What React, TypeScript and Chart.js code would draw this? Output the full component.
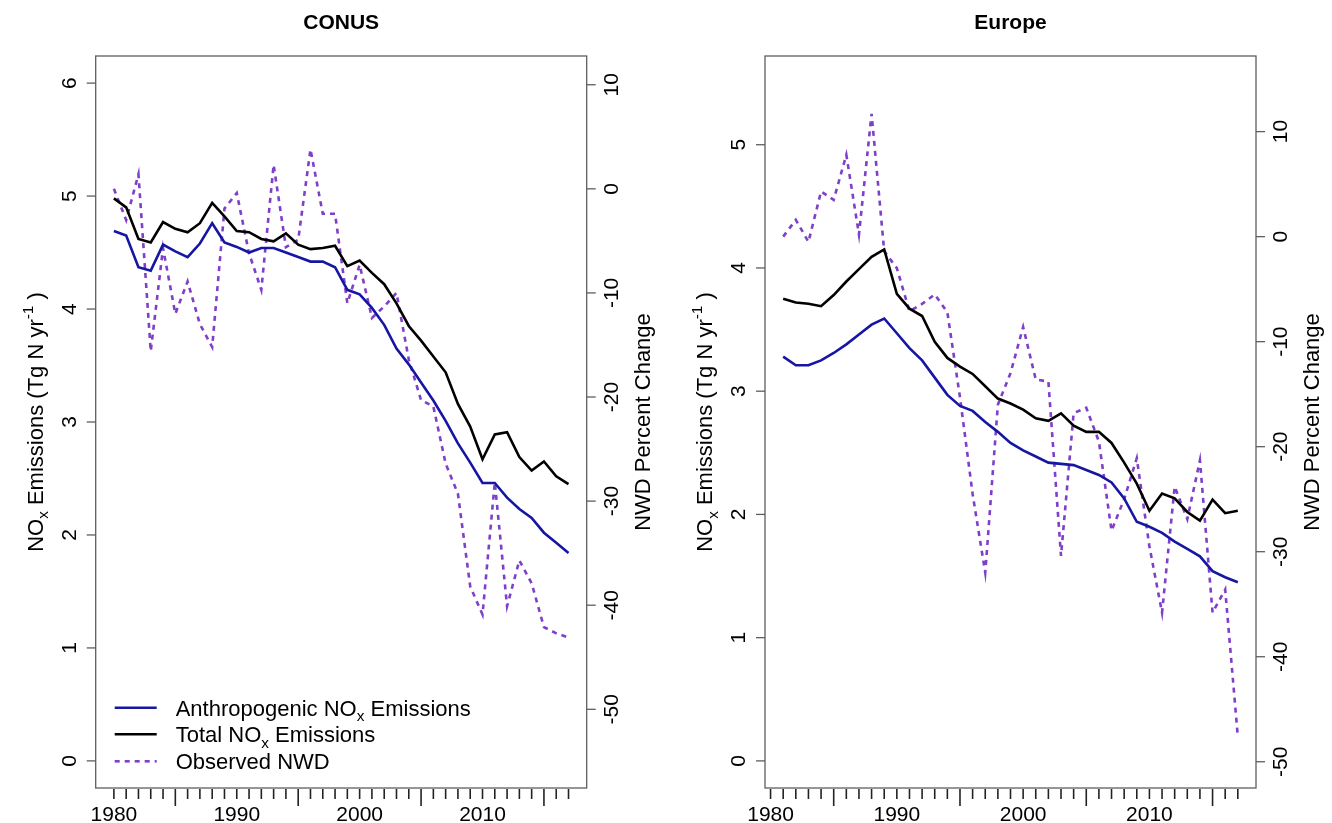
import React, { useEffect, useRef } from "react";
import { Chart, registerables } from "chart.js";

Chart.register(...registerables);

// ---------------- DATA ----------------
const conusYears = [
  1980, 1981, 1982, 1983, 1984, 1985, 1986, 1987, 1988, 1989,
  1990, 1991, 1992, 1993, 1994, 1995, 1996, 1997, 1998, 1999,
  2000, 2001, 2002, 2003, 2004, 2005, 2006, 2007, 2008, 2009,
  2010, 2011, 2012, 2013, 2014, 2015, 2016, 2017,
];
const conusAnthro = [
  4.69, 4.65, 4.37, 4.34, 4.57, 4.51, 4.46, 4.58, 4.76, 4.59,
  4.55, 4.5, 4.54, 4.54, 4.5, 4.46, 4.42, 4.42, 4.37, 4.17,
  4.13, 4.01, 3.86, 3.65, 3.51, 3.35, 3.19, 3.01, 2.81, 2.64,
  2.46, 2.46, 2.33, 2.23, 2.15, 2.02, 1.93, 1.84,
];
const conusTotal = [
  4.98, 4.9, 4.62, 4.59, 4.77, 4.71, 4.68, 4.76, 4.94, 4.82,
  4.69, 4.68, 4.62, 4.6, 4.67, 4.57, 4.53, 4.54, 4.56, 4.38,
  4.43, 4.32, 4.22, 4.05, 3.85, 3.72, 3.58, 3.44, 3.16, 2.96,
  2.67, 2.89, 2.91, 2.69, 2.57, 2.65, 2.52, 2.45,
];
const conusNWD = [
  0, -3.0, 1.4, -15.6, -5.7, -12.0, -8.9, -13.0, -15.2, -1.9,
  -0.4, -6.2, -9.7, 2.3, -5.6, -4.9, 3.8, -2.4, -2.4, -11.0,
  -7.3, -12.4, -11.3, -10.0, -16.4, -20.3, -20.9, -26.4, -29.3, -38.2,
  -40.9, -28.2, -40.1, -35.7, -37.9, -42.1, -42.7, -43.1,
];

const euroYears = [
  1981, 1982, 1983, 1984, 1985, 1986, 1987, 1988, 1989,
  1990, 1991, 1992, 1993, 1994, 1995, 1996, 1997, 1998, 1999,
  2000, 2001, 2002, 2003, 2004, 2005, 2006, 2007, 2008, 2009,
  2010, 2011, 2012, 2013, 2014, 2015, 2016, 2017,
];
const euroAnthro = [
  3.28, 3.21, 3.21, 3.25, 3.31, 3.38, 3.46, 3.54, 3.59,
  3.47, 3.35, 3.25, 3.11, 2.97, 2.88, 2.84, 2.75, 2.67, 2.58,
  2.52, 2.47, 2.42, 2.41, 2.4, 2.36, 2.32, 2.26, 2.13, 1.94,
  1.9, 1.85, 1.78, 1.72, 1.66, 1.54, 1.49, 1.45,
];
const euroTotal = [
  3.75, 3.72, 3.71, 3.69, 3.78, 3.89, 3.99, 4.09, 4.15,
  3.79, 3.67, 3.61, 3.4, 3.27, 3.2, 3.14, 3.04, 2.94, 2.9,
  2.85, 2.78, 2.76, 2.82, 2.72, 2.67, 2.67, 2.58, 2.42, 2.25,
  2.03, 2.17, 2.13, 2.02, 1.95, 2.12, 2.01, 2.03,
];
const euroNWD = [
  0, 1.6, -0.5, 4.3, 3.5, 7.8, 0.2, 11.7, -1.4,
  -3.0, -7.1, -6.4, -5.5, -7.2, -15.3, -24.5, -32.0, -16.0, -13.0,
  -8.6, -13.6, -13.8, -30.4, -16.8, -16.3, -19.5, -28.0, -25.0, -21.1,
  -29.5, -35.8, -23.8, -26.9, -21.3, -35.8, -33.6, -47.6,
];

const xTickYears = [
  1980, 1981, 1982, 1983, 1984, 1985, 1986, 1987, 1988, 1989,
  1990, 1991, 1992, 1993, 1994, 1995, 1996, 1997, 1998, 1999,
  2000, 2001, 2002, 2003, 2004, 2005, 2006, 2007, 2008, 2009,
  2010, 2011, 2012, 2013, 2014, 2015, 2016, 2017,
];
const xLabelYears = [1980, 1990, 2000, 2010];
const xLongTickYears = [1985, 1995, 2005, 2015];

const conusLeftTicks = [0, 1, 2, 3, 4, 5, 6];
const euroLeftTicks = [0, 1, 2, 3, 4, 5];
const nwdTicks = [-50, -40, -30, -20, -10, 0, 10];

const seriesLabels = ["Anthropogenic NOx Emissions", "Total NOx Emissions", "Observed NWD"];

// ---------------- STYLE ----------------
const FONT = "'Liberation Sans', Arial, Helvetica, sans-serif";
const BLUE = "#1616a2";
const BLACK = "#000000";
const PURPLE = "#7f3fc9";
const AXIS = "#5e5e5e";
const TICK_SIZE = 21;
const LAB_SIZE = 22;

type Seg = { t: string; k?: "sub" | "sup" };

function fontStr(size: number, bold = false) {
  return `${bold ? "bold " : ""}${size}px ${FONT}`;
}

function richWidth(ctx: CanvasRenderingContext2D, segs: Seg[], size: number) {
  let w = 0;
  for (const s of segs) {
    ctx.font = fontStr(s.k ? size * 0.7 : size);
    w += ctx.measureText(s.t).width;
  }
  return w;
}

function drawRich(
  ctx: CanvasRenderingContext2D,
  segs: Seg[],
  x: number,
  y: number,
  size: number,
  align: "left" | "center"
) {
  let cx = align === "center" ? x - richWidth(ctx, segs, size) / 2 : x;
  ctx.textAlign = "left";
  ctx.textBaseline = "alphabetic";
  for (const s of segs) {
    const sz = s.k ? size * 0.7 : size;
    ctx.font = fontStr(sz);
    const dy = s.k === "sub" ? size * 0.25 : s.k === "sup" ? -size * 0.45 : 0;
    ctx.fillText(s.t, cx, y + dy);
    cx += ctx.measureText(s.t).width;
  }
}

function rotText(ctx: CanvasRenderingContext2D, txt: string, x: number, y: number, baseline: CanvasTextBaseline) {
  ctx.save();
  ctx.translate(x, y);
  ctx.rotate(-Math.PI / 2);
  ctx.textAlign = "center";
  ctx.textBaseline = baseline;
  ctx.fillText(txt, 0, 0);
  ctx.restore();
}

const yTitleSegs: Seg[] = [
  { t: "NO" },
  { t: "x", k: "sub" },
  { t: " Emissions (Tg N yr" },
  { t: "-1", k: "sup" },
  { t: " )" },
];

function legendSegs(label: string): Seg[] {
  const idx = label.indexOf("NOx");
  if (idx < 0) return [{ t: label }];
  return [{ t: label.slice(0, idx + 2) }, { t: "x", k: "sub" }, { t: label.slice(idx + 3) }];
}

const framePlugin = {
  id: "rframe",
  afterDraw(chart: any, _args: any, o: any) {
    const { ctx, chartArea: a, scales } = chart;
    const xs = scales.x;
    const ys = scales.y;
    const y2 = scales.y2;
    ctx.save();
    // box
    ctx.strokeStyle = AXIS;
    ctx.lineWidth = 1.3;
    ctx.strokeRect(a.left, a.top, a.right - a.left, a.bottom - a.top);

    ctx.fillStyle = "#000";
    ctx.font = fontStr(TICK_SIZE);
    // left y ticks
    for (const v of o.leftTicks as number[]) {
      const py = ys.getPixelForValue(v);
      ctx.beginPath();
      ctx.moveTo(a.left - 9, py);
      ctx.lineTo(a.left, py);
      ctx.stroke();
      ctx.font = fontStr(TICK_SIZE);
      rotText(ctx, String(v), a.left - 20, py, "alphabetic");
    }
    // right y ticks
    for (const v of o.rightTicks as number[]) {
      const py = y2.getPixelForValue(v);
      ctx.beginPath();
      ctx.moveTo(a.right, py);
      ctx.lineTo(a.right + 9, py);
      ctx.stroke();
      ctx.font = fontStr(TICK_SIZE);
      rotText(ctx, String(v), a.right + 31, py, "alphabetic");
    }
    // x ticks
    for (const yr of xTickYears) {
      const px = xs.getPixelForValue(yr);
      const len = xLongTickYears.includes(yr) ? 18 : 11;
      ctx.beginPath();
      ctx.moveTo(px, a.bottom + 1);
      ctx.lineTo(px, a.bottom + len);
      ctx.strokeStyle = "#222";
      ctx.lineWidth = 1.6;
      ctx.stroke();
    }
    ctx.font = fontStr(TICK_SIZE);
    ctx.textAlign = "center";
    ctx.textBaseline = "alphabetic";
    for (const yr of xLabelYears) {
      const px = xs.getPixelForValue(yr);
      ctx.fillText(String(yr), px, a.bottom + 33);
    }

    // title
    ctx.font = fontStr(21, true);
    ctx.textAlign = "center";
    ctx.textBaseline = "middle";
    ctx.fillText(o.title, (a.left + a.right) / 2, 23);

    // left axis title
    const cy = (a.top + a.bottom) / 2;
    ctx.save();
    ctx.translate(a.left - 53, cy);
    ctx.rotate(-Math.PI / 2);
    drawRich(ctx, yTitleSegs, 0, 0, LAB_SIZE, "center");
    ctx.restore();
    // right axis title
    ctx.font = fontStr(LAB_SIZE);
    rotText(ctx, "NWD Percent Change", a.right + 63, cy, "alphabetic");

    // legend
    if (o.legend) {
      const ds = chart.data.datasets;
      const rows = [707.7, 734.3, 761.3];
      ds.forEach((d: any, i: number) => {
        const ry = rows[i];
        ctx.save();
        ctx.strokeStyle = d.borderColor;
        ctx.lineWidth = d.borderWidth;
        ctx.setLineDash(d.borderDash || []);
        ctx.beginPath();
        ctx.moveTo(a.left + 19, ry);
        ctx.lineTo(a.left + 61, ry);
        ctx.stroke();
        ctx.restore();
        ctx.fillStyle = "#000";
        drawRich(ctx, legendSegs(d.label), a.left + 80, ry + 8, LAB_SIZE, "left");
      });
    }
    ctx.restore();
  },
};

type PanelCfg = {
  title: string;
  years: number[];
  anthro: number[];
  total: number[];
  nwd: number[];
  xMin: number;
  xMax: number;
  yMin: number;
  yMax: number;
  y2Min: number;
  y2Max: number;
  leftTicks: number[];
  padLeft: number;
  padRight: number;
  legend: boolean;
  canvasLeft: number;
};

const W = 666;
const H = 823;

function Panel({ cfg }: { cfg: PanelCfg }) {
  const ref = useRef<HTMLCanvasElement>(null);
  useEffect(() => {
    const toPts = (vals: number[]) => cfg.years.map((yr, i) => ({ x: yr, y: vals[i] }));
    const chart = new Chart(ref.current as HTMLCanvasElement, {
      type: "line",
      data: {
        datasets: [
          {
            label: seriesLabels[0],
            data: toPts(cfg.anthro),
            borderColor: BLUE,
            borderWidth: 2.6,
            yAxisID: "y",
            pointRadius: 0,
          },
          {
            label: seriesLabels[1],
            data: toPts(cfg.total),
            borderColor: BLACK,
            borderWidth: 2.6,
            yAxisID: "y",
            pointRadius: 0,
          },
          {
            label: seriesLabels[2],
            data: toPts(cfg.nwd),
            borderColor: PURPLE,
            borderWidth: 2.6,
            borderDash: [5, 5],
            yAxisID: "y2",
            pointRadius: 0,
          },
        ] as any,
      },
      options: {
        responsive: false,
        animation: false,
        devicePixelRatio: 1,
        layout: { padding: { left: cfg.padLeft, right: cfg.padRight, top: 56, bottom: 35 } },
        elements: { line: { tension: 0 }, point: { radius: 0 } },
        plugins: {
          legend: { display: false },
          tooltip: { enabled: false },
          title: { display: false },
          rframe: {
            title: cfg.title,
            leftTicks: cfg.leftTicks,
            rightTicks: nwdTicks,
            legend: cfg.legend,
          },
        } as any,
        scales: {
          x: { type: "linear", display: false, min: cfg.xMin, max: cfg.xMax },
          y: { type: "linear", display: false, min: cfg.yMin, max: cfg.yMax },
          y2: { type: "linear", display: false, position: "right", min: cfg.y2Min, max: cfg.y2Max },
        },
      },
      plugins: [framePlugin as any],
    });
    return () => chart.destroy();
  }, []);
  return (
    <canvas
      ref={ref}
      width={W}
      height={H}
      style={{ position: "absolute", left: cfg.canvasLeft, top: 0, width: W, height: H }}
    />
  );
}

const conusCfg: PanelCfg = {
  title: "CONUS",
  years: conusYears,
  anthro: conusAnthro,
  total: conusTotal,
  nwd: conusNWD,
  xMin: 1978.52,
  xMax: 2018.48,
  yMin: -0.24,
  yMax: 6.24,
  y2Min: -57.56,
  y2Max: 12.76,
  leftTicks: conusLeftTicks,
  padLeft: 95.7,
  padRight: W - 586.7,
  legend: true,
  canvasLeft: 0,
};

const euroCfg: PanelCfg = {
  title: "Europe",
  years: euroYears,
  anthro: euroAnthro,
  total: euroTotal,
  nwd: euroNWD,
  xMin: 1979.56,
  xMax: 2018.44,
  yMin: -0.22,
  yMax: 5.72,
  y2Min: -52.5,
  y2Max: 17.2,
  leftTicks: euroLeftTicks,
  padLeft: 765 - 666,
  padRight: 1332 - 1256,
  legend: false,
  canvasLeft: 666,
};

export default function App() {
  return (
    <div
      style={{
        position: "fixed",
        left: 0,
        top: 0,
        width: 1332,
        height: 823,
        background: "#ffffff",
        overflow: "hidden",
      }}
    >
      <Panel cfg={conusCfg} />
      <Panel cfg={euroCfg} />
    </div>
  );
}
